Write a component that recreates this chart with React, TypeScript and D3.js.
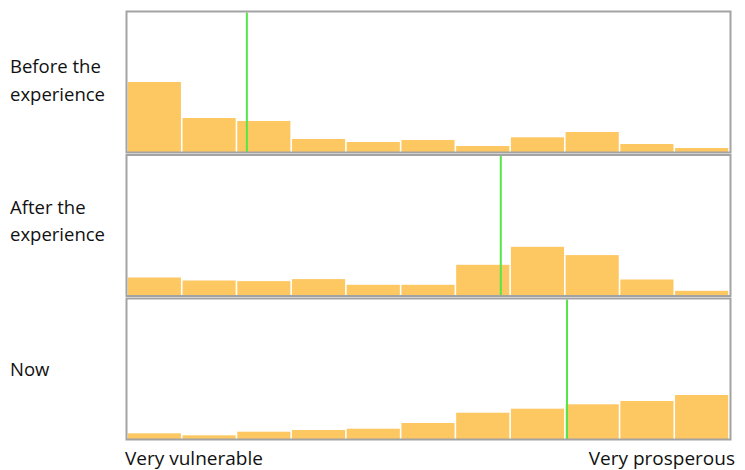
import React from "react";
import * as d3 from "d3";

const bins = d3.range(11);
const panelLabels = [["Before the", "experience"], ["After the", "experience"], ["Now"]];
const beforeValues = [70, 34, 31, 13, 10, 12, 6, 14.7, 20, 8, 4];
const afterValues = [18, 15, 14.4, 16.4, 10.7, 10.7, 30.7, 48.7, 40.4, 16, 4.7];
const nowValues = [5.7, 3.7, 7.3, 9, 10.3, 16, 26.3, 30.3, 34.7, 38, 44];
const meanPositions = [2.19, 6.83, 8.04];
const axisLabels = ["Very vulnerable", "Very prosperous"];

const series = [beforeValues, afterValues, nowValues];

const W = 745;
const H = 470;
const x0 = 126.5;
const x1 = 730.5;
const panelTops = [11.5, 155, 298.5];
const panelH = 141;
const barColor = "#fdc862";
const green = "#55e64a";
const font = "'Open Sans', 'Noto Sans', sans-serif";

export default function App() {
  const x = d3.scaleLinear().domain([0, 11]).range([127, 729]);
  const bw = x(1) - x(0);
  const labelLineY = [[68, 96], [209, 236], [371]];

  return (
    <svg width={W} height={H} style={{ position: "absolute", left: 0, top: 0, background: "#fff" }}>
      {series.map((vals, p) => {
        const top = panelTops[p];
        const base = top + panelH - 0.5;
        const y = d3.scaleLinear().domain([0, 140]).range([base, base - 140]);
        return (
          <g key={p}>
            {bins.map((i) => (
              <rect
                key={i}
                x={x(i) + 0.8}
                y={y(vals[i])}
                width={bw - 1.6}
                height={base - y(vals[i])}
                fill={barColor}
              />
            ))}
            <line
              x1={x(meanPositions[p])}
              x2={x(meanPositions[p])}
              y1={top + 1}
              y2={base}
              stroke={green}
              strokeWidth={2}
            />
            <rect
              x={x0}
              y={top}
              width={x1 - x0}
              height={panelH}
              fill="none"
              stroke="#a3a3a3"
              strokeWidth={2}
            />
            {panelLabels[p].map((t, k) => (
              <text
                key={k}
                x={10}
                y={labelLineY[p][k]}
                dominantBaseline="middle"
                fontFamily={font}
                fontSize={18.5}
                fill="#111"
              >
                {t}
              </text>
            ))}
          </g>
        );
      })}
      <text x={125} y={460} dominantBaseline="middle" fontFamily={font} fontSize={19} fill="#111">
        {axisLabels[0]}
      </text>
      <text x={735} y={460} textAnchor="end" dominantBaseline="middle" fontFamily={font} fontSize={19} fill="#111">
        {axisLabels[1]}
      </text>
    </svg>
  );
}
